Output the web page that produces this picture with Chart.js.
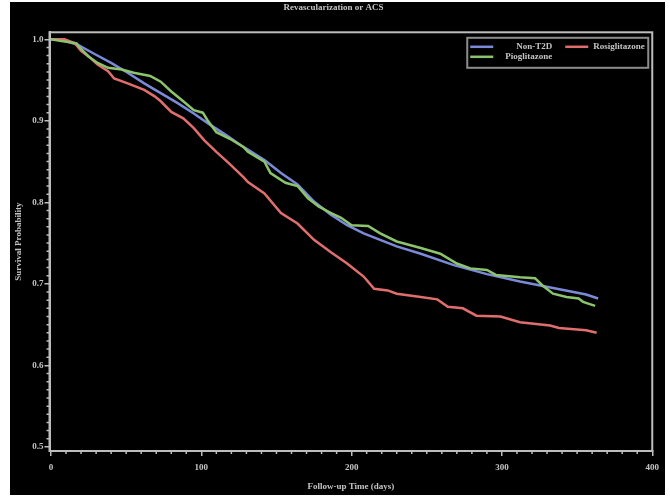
<!DOCTYPE html>
<html>
<head>
<meta charset="utf-8">
<script src="https://cdn.jsdelivr.net/npm/chart.js@4/dist/chart.umd.min.js"></script>
<style>
  html, body { margin: 0; padding: 0; background: #fff; }
  #wrap { position: absolute; left: 10px; top: 2px; width: 655px; height: 493px; background: #000; }
</style>
</head>
<body>
<div id="wrap"><canvas id="km"></canvas></div>
<script>
// Data
const xTicks = [0, 100, 200, 300, 400];
const yTicks = [0.5, 0.6, 0.7, 0.8, 0.9, 1.0];

const nonT2dDays = [0, 5, 10, 18, 29, 40, 51, 62, 73, 84, 95, 106, 117, 128, 142, 153, 164, 175, 186, 197, 208, 219, 230, 246, 268, 290, 312, 334, 356, 364];
const nonT2dSurv = [1.0, 1.0, 0.998, 0.993, 0.982, 0.971, 0.959, 0.946, 0.934, 0.922, 0.909, 0.895, 0.882, 0.868, 0.852, 0.836, 0.822, 0.801, 0.785, 0.772, 0.762, 0.754, 0.746, 0.737, 0.723, 0.712, 0.703, 0.695, 0.687, 0.682];

const rosiDays = [0, 9, 16, 20, 25, 31, 38, 42, 51, 62, 69, 73, 80, 88, 95, 102, 110, 119, 128, 131, 142, 153, 164, 175, 186, 197, 208, 215, 224, 230, 246, 257, 264, 274, 283, 299, 312, 332, 338, 356, 363];
const rosiSurv = [1.0, 1.0, 0.995, 0.986, 0.979, 0.969, 0.961, 0.952, 0.946, 0.938, 0.930, 0.924, 0.911, 0.903, 0.891, 0.876, 0.862, 0.847, 0.831, 0.825, 0.811, 0.787, 0.774, 0.754, 0.739, 0.725, 0.709, 0.694, 0.692, 0.688, 0.684, 0.681, 0.672, 0.670, 0.661, 0.660, 0.653, 0.649, 0.646, 0.643, 0.640];

const pioDays = [0, 7, 17, 19, 25, 31, 38, 47, 55, 66, 73, 80, 88, 95, 101, 104, 110, 119, 128, 131, 142, 146, 156, 164, 171, 178, 186, 193, 200, 211, 219, 230, 246, 259, 270, 279, 290, 296, 312, 322, 327, 334, 343, 351, 354, 362];
const pioSurv = [1.0, 0.998, 0.995, 0.990, 0.979, 0.971, 0.965, 0.963, 0.959, 0.955, 0.948, 0.936, 0.924, 0.913, 0.910, 0.901, 0.886, 0.878, 0.868, 0.862, 0.850, 0.836, 0.824, 0.820, 0.805, 0.795, 0.787, 0.781, 0.772, 0.771, 0.762, 0.752, 0.744, 0.737, 0.725, 0.719, 0.717, 0.711, 0.708, 0.707, 0.698, 0.688, 0.684, 0.682, 0.678, 0.673];

const axisColor = '#bdbdbd';
const textColor = '#c4c4c4';
const fontFamily = '"Liberation Serif", "DejaVu Serif", serif';

const toPoints = (days, surv) => days.map((d, i) => ({ x: d, y: surv[i] }));

// box round the plot area
const frame = {
  id: 'frame',
  afterDraw(chart) {
    const { ctx, chartArea: a } = chart;
    ctx.save();
    ctx.strokeStyle = axisColor;
    ctx.lineWidth = 2;
    ctx.strokeRect(a.left, a.top, a.right - a.left, a.bottom - a.top);
    ctx.restore();
  }
};

// short minor ticks between the labelled ones
const minorTicks = {
  id: 'minorTicks',
  afterDraw(chart) {
    const { ctx, chartArea: a, scales: { x, y } } = chart;
    ctx.save();
    ctx.strokeStyle = axisColor;
    ctx.lineWidth = 1.5;
    ctx.beginPath();
    for (let d = 10; d < 400; d += 10) {
      if (d % 100 === 0) continue;
      const px = x.getPixelForValue(d);
      ctx.moveTo(px, a.bottom);
      ctx.lineTo(px, a.bottom + 3);
    }
    for (let k = 51; k < 100; k++) {
      if (k % 10 === 0) continue;
      const py = y.getPixelForValue(k / 100);
      ctx.moveTo(a.left, py);
      ctx.lineTo(a.left - 3, py);
    }
    ctx.stroke();
    ctx.restore();
  }
};

// legend box inside the top right corner
const insideLegend = {
  id: 'insideLegend',
  afterDraw(chart) {
    const { ctx, chartArea: a } = chart;
    const ds = chart.data.datasets;
    const right = a.right - 4, top = a.top + 5.5;
    const left = right - 181, bottom = top + 30;
    ctx.save();
    ctx.strokeStyle = '#8c8c8c';
    ctx.lineWidth = 2;
    ctx.strokeRect(left, top, right - left, bottom - top);
    ctx.font = 'bold 9px ' + fontFamily;
    ctx.fillStyle = textColor;
    ctx.textBaseline = 'middle';
    const slots = [
      { i: 0, lx: left + 3, ly: top + 9, tx: left + 85, align: 'right' },
      { i: 1, lx: left + 98, ly: top + 9, tx: left + 126, align: 'left' },
      { i: 2, lx: left + 3, ly: top + 19, tx: left + 85, align: 'right' }
    ];
    slots.forEach(s => {
      ctx.strokeStyle = ds[s.i].borderColor;
      ctx.lineWidth = 2.5;
      ctx.beginPath();
      ctx.moveTo(s.lx, s.ly);
      ctx.lineTo(s.lx + 23, s.ly);
      ctx.stroke();
      ctx.textAlign = s.align;
      ctx.fillText(ds[s.i].label, s.tx, s.ly);
    });
    ctx.restore();
  }
};

new Chart(document.getElementById('km'), {
  type: 'line',
  data: {
    datasets: [
      { label: 'Non-T2D', data: toPoints(nonT2dDays, nonT2dSurv), borderColor: '#7b8ad8', order: 2 },
      { label: 'Rosiglitazone', data: toPoints(rosiDays, rosiSurv), borderColor: '#e06e6e', order: 1 },
      { label: 'Pioglitazone', data: toPoints(pioDays, pioSurv), borderColor: '#8cc46e', order: 0 }
    ]
  },
  options: {
    responsive: true,
    maintainAspectRatio: false,
    animation: false,
    layout: { padding: { left: 0, right: 8, top: 0, bottom: 0 } },
    elements: {
      line: { borderWidth: 2.5, tension: 0, fill: false },
      point: { radius: 0 }
    },
    plugins: {
      legend: { display: false },
      tooltip: { enabled: false },
      title: {
        display: true,
        text: 'Revascularization or ACS',
        color: textColor,
        font: { family: fontFamily, size: 9, weight: 'bold', lineHeight: 1.2 },
        padding: { top: 0.5, bottom: 19 }
      }
    },
    scales: {
      x: {
        type: 'linear',
        min: -1,
        max: 400,
        afterBuildTicks: s => { s.ticks = xTicks.map(v => ({ value: v })); },
        afterFit: s => { s.height = 44; },
        grid: { drawOnChartArea: false, tickLength: 5, color: axisColor, lineWidth: 1.5 },
        border: { color: axisColor, width: 2 },
        ticks: { color: textColor, padding: 6, maxRotation: 0, font: { family: fontFamily, size: 9, weight: 'bold' } },
        title: {
          display: true,
          text: 'Follow-up Time (days)',
          color: textColor,
          font: { family: fontFamily, size: 9, weight: 'bold', lineHeight: 1.2 },
          padding: { top: 0, bottom: 3 }
        }
      },
      y: {
        type: 'linear',
        min: 0.495,
        max: 1.0086,
        afterBuildTicks: s => { s.ticks = yTicks.map(v => ({ value: v })); },
        afterFit: s => { s.width = 39.5; },
        grid: { drawOnChartArea: false, tickLength: 5, color: axisColor, lineWidth: 1.5 },
        border: { color: axisColor, width: 2 },
        ticks: { color: textColor, padding: 1, callback: v => v.toFixed(1), font: { family: fontFamily, size: 9, weight: 'bold' } },
        title: {
          display: true,
          text: 'Survival Probability',
          color: textColor,
          font: { family: fontFamily, size: 9, weight: 'bold', lineHeight: 1.2 },
          padding: { top: 3.6, bottom: 0 }
        }
      }
    }
  },
  plugins: [frame, minorTicks, insideLegend]
});
</script>
</body>
</html>
